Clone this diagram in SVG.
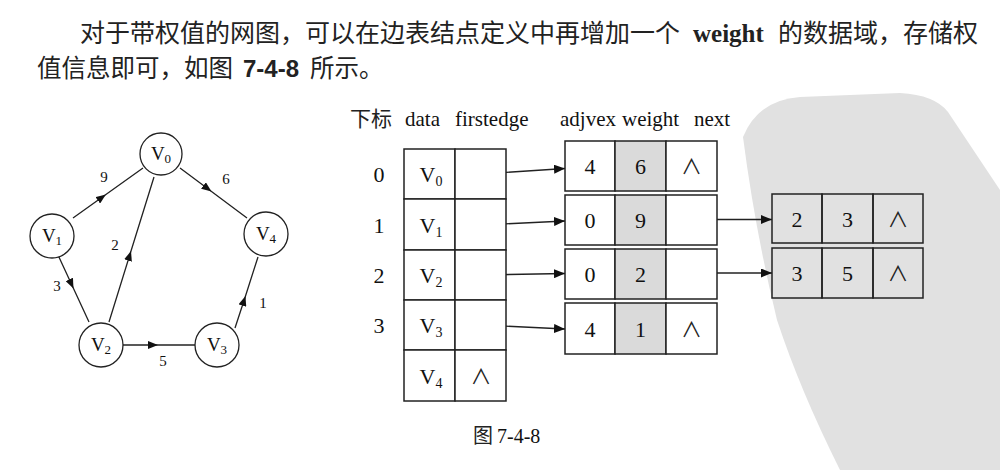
<svg xmlns="http://www.w3.org/2000/svg" width="1000" height="470" viewBox="0 0 1000 470">
<style>
  .cjk { font-family: "Noto Sans CJK SC", sans-serif; fill: #222; }
  .ser { font-family: "Liberation Serif", "Noto Sans CJK SC", serif; fill: #111; }
  .hdr { font-size: 21px; }
  .num { font-size: 22px; text-anchor: middle; }
  .wt  { font-size: 15px; text-anchor: middle; }
  .nil { font-family: "Noto Sans CJK SC", "DejaVu Sans", sans-serif; font-size: 21px; text-anchor: middle; fill: #222; }
  .cell { fill: #fff; stroke: #222; stroke-width: 1.5; }
  .cellw { fill: #dadada; stroke: #222; stroke-width: 1.5; }
  .cellt { fill: none; stroke: #222; stroke-width: 1.5; }
  .node { fill: #fff; stroke: #222; stroke-width: 1.3; }
  .edge { fill: none; stroke: #222; stroke-width: 1.3; marker-mid: url(#ah); }
  .ptr { fill: none; stroke: #222; stroke-width: 1.4; marker-end: url(#ap); }
</style>
<defs>
  <marker id="ah" markerUnits="userSpaceOnUse" markerWidth="11" markerHeight="8" refX="10" refY="4" orient="auto">
    <path d="M0,0 L10,4 L0,8 z" fill="#111"/>
  </marker>
  <marker id="ap" markerUnits="userSpaceOnUse" markerWidth="12" markerHeight="9" refX="11" refY="4.5" orient="auto">
    <path d="M0,0 L11,4.5 L0,9 z" fill="#111"/>
  </marker>
</defs>
<rect width="1000" height="470" fill="#fff"/>
<!-- watermark band -->
<path d="M743,137 Q758,100 800,97 L900,93 Q935,95 948,112 L1000,190 L1000,470 L840,470 Q800,390 777,320 Q755,230 743,137 Z" fill="#e1e1e1"/>

<!-- paragraph text -->
<g id="paragraph">
  <text class="cjk" x="80" y="42" font-size="25">对于带权值的网图，可以在边表结点定义中再增加一个</text>
  <text x="693" y="42" font-size="25" font-weight="bold" font-family="Liberation Serif, serif" fill="#222">weight</text>
  <text class="cjk" x="778" y="42" font-size="25">的数据域，存储权</text>
  <text class="cjk" x="37" y="77" font-size="24.5">值信息即可，如图</text>
  <text x="243" y="77" font-size="24" font-weight="bold" font-family="Liberation Sans, sans-serif" fill="#222">7-4-8</text>
  <text class="cjk" x="310" y="77" font-size="24.5">所示。</text>
</g>

<!-- connectors -->
<g id="connectors">
  <polyline class="edge" points="73,218 105.9,194.5 143,168"/>
  <polyline class="edge" points="180,168 211.5,191.5 247,218"/>
  <polyline class="edge" points="109,322 131,251 154,177"/>
  <polyline class="edge" points="58,255 73.5,288.5 89,322"/>
  <polyline class="edge" points="123,345 158,345 195,345"/>
  <polyline class="edge" points="235,328 245.5,296 258,257"/>
  <line class="ptr" x1="482" y1="174" x2="565" y2="168.5"/>
  <line class="ptr" x1="482" y1="225" x2="565" y2="221"/>
  <line class="ptr" x1="482" y1="275" x2="565" y2="273.5"/>
  <line class="ptr" x1="482" y1="325" x2="565" y2="329"/>
  <line class="ptr" x1="692" y1="219.5" x2="772" y2="219.5"/>
  <line class="ptr" x1="692" y1="273" x2="772" y2="273"/>
</g>

<!-- graph edge weights -->
<g id="weights" class="ser">
  <text class="wt" x="104" y="182">9</text>
  <text class="wt" x="226" y="184">6</text>
  <text class="wt" x="115" y="250">2</text>
  <text class="wt" x="57" y="291">3</text>
  <text class="wt" x="263" y="308">1</text>
  <text class="wt" x="163" y="366">5</text>
</g>

<!-- graph nodes -->
<g id="g-v0"><circle class="node" cx="161" cy="154" r="21"/><text class="ser" x="161" y="160" font-size="19" text-anchor="middle">V<tspan font-size="13" dy="3">0</tspan></text></g>
<g id="g-v1"><circle class="node" cx="52" cy="236" r="22"/><text class="ser" x="52" y="242" font-size="19" text-anchor="middle">V<tspan font-size="13" dy="3">1</tspan></text></g>
<g id="g-v2"><circle class="node" cx="101" cy="345" r="22"/><text class="ser" x="101" y="351" font-size="19" text-anchor="middle">V<tspan font-size="13" dy="3">2</tspan></text></g>
<g id="g-v3"><circle class="node" cx="217" cy="345" r="22"/><text class="ser" x="217" y="351" font-size="19" text-anchor="middle">V<tspan font-size="13" dy="3">3</tspan></text></g>
<g id="g-v4"><circle class="node" cx="266" cy="234" r="22"/><text class="ser" x="266" y="240" font-size="19" text-anchor="middle">V<tspan font-size="13" dy="3">4</tspan></text></g>

<!-- header -->
<g id="header">
  <text class="cjk" x="350" y="126" font-size="21" fill="#333">下标</text>
  <text class="ser hdr" x="405" y="126">data</text>
  <text class="ser hdr" x="455" y="126">firstedge</text>
  <text class="ser hdr" x="560" y="126">adjvex</text>
  <text class="ser hdr" x="622" y="126">weight</text>
  <text class="ser hdr" x="694" y="126">next</text>
</g>

<!-- vertex table -->
<g id="vertex-0">
  <text class="ser num" x="379" y="182">0</text>
  <rect class="cell" x="404" y="149" width="51" height="50"/><rect class="cell" x="455" y="149" width="51" height="50"/>
  <text class="ser num" x="431" y="182">V<tspan font-size="14" dy="4">0</tspan></text>
</g>
<g id="vertex-1">
  <text class="ser num" x="379" y="233">1</text>
  <rect class="cell" x="404" y="199" width="51" height="51"/><rect class="cell" x="455" y="199" width="51" height="51"/>
  <text class="ser num" x="431" y="233">V<tspan font-size="14" dy="4">1</tspan></text>
</g>
<g id="vertex-2">
  <text class="ser num" x="379" y="283">2</text>
  <rect class="cell" x="404" y="250" width="51" height="50"/><rect class="cell" x="455" y="250" width="51" height="50"/>
  <text class="ser num" x="431" y="283">V<tspan font-size="14" dy="4">2</tspan></text>
</g>
<g id="vertex-3">
  <text class="ser num" x="379" y="333">3</text>
  <rect class="cell" x="404" y="300" width="51" height="50"/><rect class="cell" x="455" y="300" width="51" height="50"/>
  <text class="ser num" x="431" y="333">V<tspan font-size="14" dy="4">3</tspan></text>
</g>
<g id="vertex-4">
  <rect class="cell" x="404" y="350" width="51" height="51"/><rect class="cell" x="455" y="350" width="51" height="51"/>
  <text class="ser num" x="431" y="384">V<tspan font-size="14" dy="4">4</tspan></text>
  <text class="nil" x="481" y="384">∧</text>
</g>

<!-- edge nodes level 1 -->
<g id="edge-0-4">
  <rect class="cell" x="565" y="141" width="50" height="50"/><rect class="cellw" x="615" y="141" width="51" height="50"/><rect class="cell" x="666" y="141" width="51" height="50"/>
  <text class="ser num" x="590" y="174">4</text><text class="ser num" x="640.5" y="174">6</text><text class="nil" x="691.5" y="174">∧</text>
</g>
<g id="edge-1-0">
  <rect class="cell" x="565" y="195" width="50" height="50"/><rect class="cellw" x="615" y="195" width="51" height="50"/><rect class="cell" x="666" y="195" width="51" height="50"/>
  <text class="ser num" x="590" y="228">0</text><text class="ser num" x="640.5" y="228">9</text>
</g>
<g id="edge-2-0">
  <rect class="cell" x="565" y="249" width="50" height="50"/><rect class="cellw" x="615" y="249" width="51" height="50"/><rect class="cell" x="666" y="249" width="51" height="50"/>
  <text class="ser num" x="590" y="282">0</text><text class="ser num" x="640.5" y="282">2</text>
</g>
<g id="edge-3-4">
  <rect class="cell" x="565" y="303" width="50" height="51"/><rect class="cellw" x="615" y="303" width="51" height="51"/><rect class="cell" x="666" y="303" width="51" height="51"/>
  <text class="ser num" x="590" y="337">4</text><text class="ser num" x="640.5" y="337">1</text><text class="nil" x="691.5" y="337">∧</text>
</g>

<!-- edge nodes level 2 -->
<g id="edge-1-2">
  <rect class="cellt" x="772" y="194" width="50" height="49"/><rect class="cellt" x="822" y="194" width="51" height="49"/><rect class="cellt" x="873" y="194" width="50" height="49"/>
  <text class="ser num" x="797" y="227">2</text><text class="ser num" x="847.5" y="227">3</text><text class="nil" x="898" y="227">∧</text>
</g>
<g id="edge-2-3">
  <rect class="cellt" x="772" y="248" width="50" height="50"/><rect class="cellt" x="822" y="248" width="51" height="50"/><rect class="cellt" x="873" y="248" width="50" height="50"/>
  <text class="ser num" x="797" y="281">3</text><text class="ser num" x="847.5" y="281">5</text><text class="nil" x="898" y="281">∧</text>
</g>

<!-- caption -->
<g id="caption">
  <text class="cjk" x="473" y="443" font-size="20">图</text>
  <text class="ser" x="497" y="443" font-size="20">7-4-8</text>
</g>
</svg>
